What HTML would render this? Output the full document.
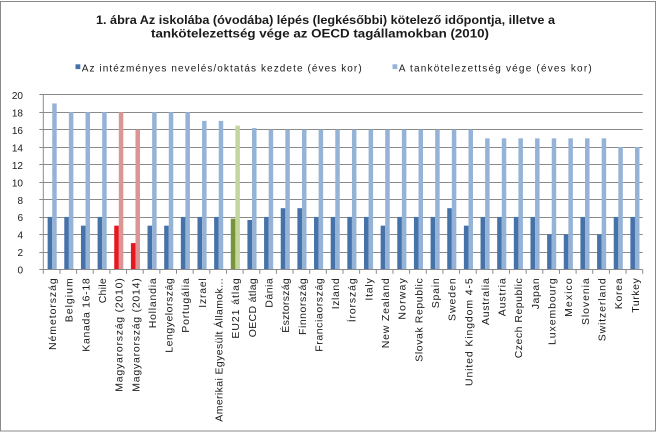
<!DOCTYPE html>
<html><head><meta charset="utf-8"><style>
html,body{margin:0;padding:0;background:#fff;}
svg{display:block;}
text{font-family:"Liberation Sans",sans-serif;fill:#1a1a1a;}
</style></head><body>
<svg width="659" height="432" viewBox="0 0 659 432" xmlns="http://www.w3.org/2000/svg">
<defs><clipPath id="c0"><rect x="0" y="0" width="40" height="273.5"/></clipPath></defs>
<rect x="0" y="0" width="659" height="432" fill="#fff"/>
<rect x="0.5" y="1.5" width="655" height="429.5" fill="none" stroke="#8a8a8a" stroke-width="1"/>
<text x="96" y="24" font-size="11.5" font-weight="bold" textLength="459" lengthAdjust="spacingAndGlyphs">1. ábra Az iskolába (óvodába) lépés (legkésőbbi) kötelező időpontja, illetve a</text>
<text x="151" y="37.5" font-size="11.5" font-weight="bold" textLength="338" lengthAdjust="spacingAndGlyphs">tankötelezettség vége az OECD tagállamokban (2010)</text>
<rect x="75.5" y="64.3" width="4.8" height="4.8" fill="#4672aa"/>
<text x="81.7" y="71.5" font-size="10" textLength="280" lengthAdjust="spacing">Az intézményes nevelés/oktatás kezdete (éves kor)</text>
<rect x="392.5" y="64.3" width="4.8" height="4.8" fill="#95b3d7"/>
<text x="398.7" y="71.5" font-size="10" textLength="193" lengthAdjust="spacing">A tankötelezettség vége (éves kor)</text>
<g id="grid" stroke="#8a8a8a" stroke-width="1"></g>
<g id="bars"></g>
<g id="axes" stroke="#8a8a8a" stroke-width="1"></g>
<g id="ylab" font-size="10" text-anchor="end"></g>
<g id="xlab" font-size="10.5" text-anchor="end"></g>
</svg>
<script>
(function(){
var NS="http://www.w3.org/2000/svg";
function el(tag,attrs,parent,txt){var e=document.createElementNS(NS,tag);for(var k in attrs)e.setAttribute(k,attrs[k]);if(txt!==undefined)e.textContent=txt;parent.appendChild(e);return e;}
var L=43.3,R=642.7,Y0=269.3,S=8.73,N=36,W=(R-L)/N;
var grid=document.getElementById('grid'),bars=document.getElementById('bars'),axes=document.getElementById('axes'),ylab=document.getElementById('ylab'),xlab=document.getElementById('xlab');
for(var v=2;v<=20;v+=2){var y=Math.round((Y0-v*S)*2)/2;if(y%1===0)y+=0.5;el('line',{x1:39.3,x2:R,y1:y,y2:y},grid);}
var data=[
["Németország",6,19,71.7],["Belgium",6,18,45],["Kanada 16-18",5,18,73.4],["Chile",6,18,25],
["Magyarország (2010)",5,18,113.4,"r"],["Magyarország (2014)",3,16,113.4,"r"],["Hollandia",5,18,50],["Lengyelország",5,18,74.4],
["Portugália",6,18,54.4],["Izrael",6,17,29.4],["Amerikai Egyesült Államok...",6,17,143.4],["EU21 átlag",5.8,16.45,66.7,"g"],
["OECD átlag",5.65,16.18,59],["Dánia",6,16,29.4],["Észtország",7,16,54.4],["Finnország",7,16,56.7],
["Franciaország",6,16,73.4],["Izland",6,16,31],["Írország",6,16,51.7],["Italy",6,16,31.7],
["New Zealand",5,16,70],["Norway",6,16,51],["Slovak Republic",6,16,83.4],["Spain",6,16,30],
["Sweden",7,16,42.7],["United Kingdom 4-5",5,16,108.4],["Australia",6,15,46.7],["Austria",6,15,41.7],
["Czech Republic",6,15,80],["Japan",6,15,31],["Luxembourg",4,15,66.7],["Mexico",4,15,50],
["Slovenia",6,15,58.4],["Switzerland",4,15,63.4],["Korea",6,14,31],["Turkey",6,14,34.4]];
data.forEach(function(d,i){
  var c=L+W*(i+0.5),b=c+0.6;
  var c1="#4672aa",c2="#95b3d7";
  if(d[4]==="r"){c1="#e8171f";c2="#d99694";}
  if(d[4]==="g"){c1="#77933c";c2="#c3d69b";}
  var y1=Y0-d[1]*S,y2=Y0-d[2]*S;
  el('rect',{x:(b-4.6).toFixed(2),y:y1.toFixed(2),width:4.6,height:(Y0-y1).toFixed(2),fill:c1},bars);
  el('rect',{x:b.toFixed(2),y:y2.toFixed(2),width:4.5,height:(Y0-y2).toFixed(2),fill:c2},bars);
  var t=el('text',{transform:"translate("+(c+4.4).toFixed(2)+",278.3) rotate(-90)"},xlab,d[0]);
  var nat=0;try{nat=t.getComputedTextLength();}catch(e){}
  if(nat>0){var tl=Math.min(d[3],nat*1.16);t.setAttribute('textLength',tl.toFixed(1));t.setAttribute('lengthAdjust','spacing');}
});
el('line',{x1:L,x2:L,y1:94.7,y2:Y0+0.2},axes);
el('line',{x1:39.3,x2:R,y1:269.5,y2:269.5},axes);
for(var k=0;k<=N;k++){var x=L+W*k;el('line',{x1:x,x2:x,y1:269.5,y2:273.8},axes);}
for(var v=0;v<=20;v+=2){var y=Y0-v*S;var a={x:23,y:(y+4.3).toFixed(2)};if(v===0)a['clip-path']="url(#c0)";el('text',a,ylab,String(v));}
})();
</script>
</body></html>
